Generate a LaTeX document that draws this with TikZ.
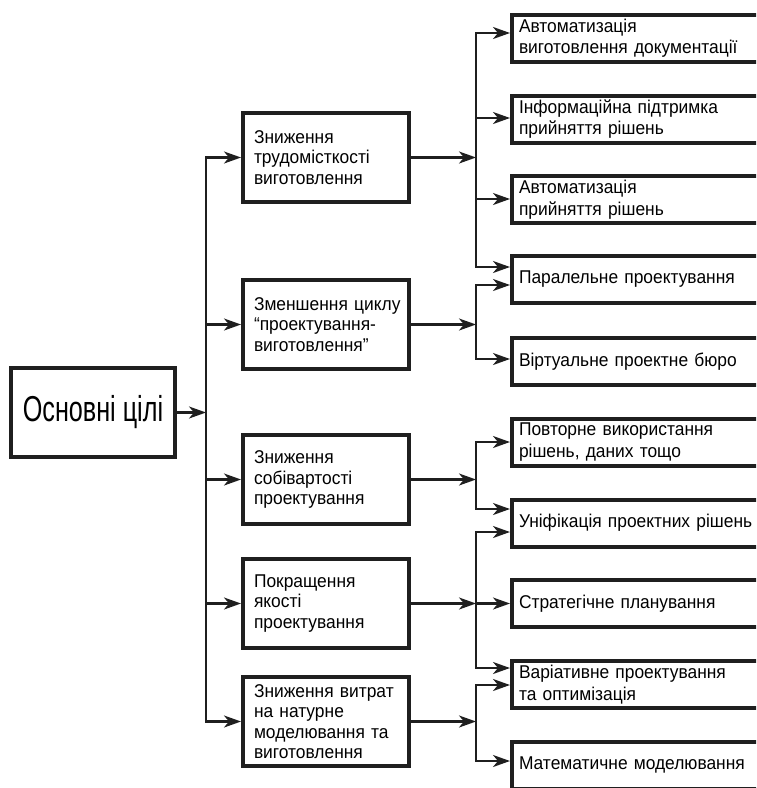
\documentclass[tikz,border=0pt]{standalone}
\usepackage{fontspec}
\setmainfont{Liberation Sans}[FakeStretch=0.94]
\newfontfamily\bigfont[FakeStretch=0.7]{Liberation Sans}
\usetikzlibrary{arrows.meta}
\begin{document}
\begin{tikzpicture}[x=1pt,y=-1pt,
  box/.style={draw=black!88, line width=4pt, rectangle, inner ysep=0pt},
  mid/.style={box, text width=144pt, inner xsep=11pt, minimum height=89pt, align=left, font=\fontsize{18.5}{20.5}\selectfont},
  rbox/.style={box, text width=286pt, inner xsep=7pt, minimum height=47pt, align=left, font=\fontsize{18.5}{21.5}\selectfont},
  conn/.style={line width=2.2pt, draw=black!88, line cap=rect},
  arr/.style={conn, -{Stealth[length=17pt,width=12pt,inset=5pt]}}]
\useasboundingbox (0,0) rectangle (756,788);
\clip (0,0) rectangle (756,788);

% main
\node[box, minimum width=164pt, minimum height=89pt, inner sep=0pt,
      font=\bigfont\fontsize{36}{40}\selectfont] (main) at (93,412.5) {Основні цілі};

% middle level
\node[mid] (m1) at (326,157.5) {Зниження\\\mbox{трудомісткості}\\виготовлення};
\node[mid] (m2) at (326,324.5) {\mbox{Зменшення циклу}\\\mbox{“проектування-}\\\mbox{виготовлення”}};
\node[mid] (m3) at (326,479.5) {Зниження\\собівартості\\проектування};
\node[mid] (m4) at (326,603.5) {Покращення\\якості\\проектування};
\node[mid] (m5) at (326,721.5) {\mbox{Зниження витрат}\\на натурне\\\mbox{моделювання та}\\виготовлення};

% right level
\node[rbox] (r1) at (662,38) {Автоматизація\\виготовлення документації};
\node[rbox] (r2) at (662,119) {Інформаційна підтримка\\прийняття рішень};
\node[rbox] (r3) at (662,199.5) {Автоматизація\\прийняття рішень};
\node[rbox] (r4) at (662,279.5) {Паралельне проектування};
\node[rbox] (r5) at (662,361.5) {Віртуальне проектне бюро};
\node[rbox] (r6) at (662,442) {Повторне використання\\рішень, даних тощо};
\node[rbox] (r7) at (662,523) {Уніфікація проектних рішень};
\node[rbox] (r8) at (662,603.5) {Стратегічне планування};
\node[rbox] (r9) at (662,684.5) {Варіативне проектування\\та оптимізація};
\node[rbox] (r10) at (662,765) {Математичне моделювання};

% trunk 1
\coordinate (t1) at (206,412.5);
\draw[arr] (main.east) -- (t1);
\draw[conn] (t1 |- m1.west) -- (t1 |- m5.west);
\foreach \m in {m1,m2,m3,m4,m5}
  \draw[arr] (t1 |- \m.west) -- (\m.west);

% group A
\coordinate (a1) at (476,33);
\coordinate (a2) at (476,118);
\coordinate (a3) at (476,199);
\coordinate (a4) at (476,267);
\draw[arr] (m1.east) -- (m1.east -| a1);
\draw[conn] (a1) -- (a4);
\draw[arr] (a1) -- (a1 -| r1.west);
\draw[arr] (a2) -- (a2 -| r2.west);
\draw[arr] (a3) -- (a3 -| r3.west);
\draw[arr] (a4) -- (a4 -| r4.west);

% group B
\coordinate (b1) at (476,285);
\coordinate (b2) at (476,359);
\draw[arr] (m2.east) -- (m2.east -| b1);
\draw[conn] (b1) -- (b2);
\draw[arr] (b1) -- (b1 -| r4.west);
\draw[arr] (b2) -- (b2 -| r5.west);

% group C
\coordinate (c1) at (476,442);
\coordinate (c2) at (476,509);
\draw[arr] (m3.east) -- (m3.east -| c1);
\draw[conn] (c1) -- (c2);
\draw[arr] (c1) -- (c1 -| r6.west);
\draw[arr] (c2) -- (c2 -| r7.west);

% group D
\coordinate (d1) at (476,532);
\coordinate (d2) at (476,668);
\draw[arr] (m4.east) -- (m4.east -| d1);
\draw[conn] (d1) -- (d2);
\draw[arr] (d1) -- (d1 -| r7.west);
\draw[arr] (m4.east -| d1) -- (r8.west);
\draw[arr] (d2) -- (d2 -| r9.west);

% group E
\coordinate (e1) at (476,685);
\coordinate (e2) at (476,761);
\draw[arr] (m5.east) -- (m5.east -| e1);
\draw[conn] (e1) -- (e2);
\draw[arr] (e1) -- (e1 -| r9.west);
\draw[arr] (e2) -- (e2 -| r10.west);
\end{tikzpicture}
\end{document}
